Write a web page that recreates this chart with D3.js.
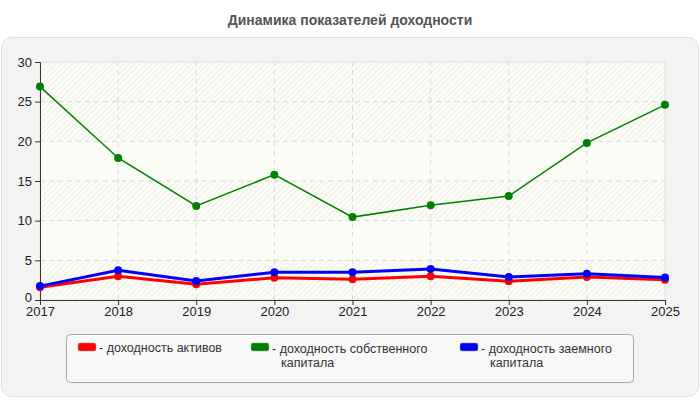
<!DOCTYPE html>
<html>
<head>
<meta charset="utf-8">
<title>Динамика показателей доходности</title>
<script src="https://cdn.jsdelivr.net/npm/d3@7"></script>
<style>
  body { margin: 0; background: #fff; font-family: "Liberation Sans", Arial, sans-serif; }
</style>
</head>
<body>
<div id="chart"></div>
<script>
var years = [2017, 2018, 2019, 2020, 2021, 2022, 2023, 2024, 2025];
var assets = [1.6, 3.0, 2.0, 2.8, 2.6, 3.0, 2.35, 2.9, 2.55];
var equity = [26.9, 17.9, 11.85, 15.8, 10.45, 11.95, 13.1, 19.8, 24.6];
var debt = [1.75, 3.75, 2.4, 3.5, 3.5, 3.9, 2.9, 3.3, 2.85];
var yTicks = [0, 5, 10, 15, 20, 25, 30];

var series = [
  {name: "- доходность активов", lines: ["- доходность активов"], values: assets, color: "red", width: 3},
  {name: "- доходность собственного капитала", lines: ["- доходность собственного", "капитала"], values: equity, color: "green", width: 1.5},
  {name: "- доходность заемного капитала", lines: ["- доходность заемного", "капитала"], values: debt, color: "blue", width: 3}
];

var width = 700, height = 400;
var svg = d3.select("#chart").append("svg")
  .attr("width", width).attr("height", height);

var defs = svg.append("defs");
var pat = defs.append("pattern")
  .attr("id", "hatch").attr("patternUnits", "userSpaceOnUse")
  .attr("width", 4).attr("height", 4)
  .attr("patternTransform", "rotate(45)");
pat.append("line").attr("x1", 0).attr("y1", 0).attr("x2", 0).attr("y2", 4)
  .attr("stroke", "#e2e2dc").attr("stroke-width", 1);

// outer panel
svg.append("rect").attr("x", 1.5).attr("y", 37.5).attr("width", 697).attr("height", 359)
  .attr("rx", 10).attr("fill", "#f3f3f3").attr("stroke", "#e0e0e0");

svg.append("text").attr("x", 350).attr("y", 25).attr("text-anchor", "middle")
  .attr("font-size", 14).attr("font-weight", "bold").attr("fill", "#555")
  .text("Динамика показателей доходности");

var x = d3.scaleLinear().domain([2017, 2025]).range([40, 665]);
var y = d3.scaleLinear().domain([0, 30]).range([300, 62]);

// plot background
svg.append("rect").attr("x", x(2017)).attr("y", y(30))
  .attr("width", x(2025) - x(2017)).attr("height", y(0) - y(30))
  .attr("fill", "#fcfcf6").attr("stroke", "#dcdcdc");

// alternating hatched bands
var bands = [[0, 5], [10, 15], [20, 25], [25, 30]];
svg.selectAll(".band").data(bands).enter().append("rect")
  .attr("class", "band")
  .attr("x", x(2017)).attr("width", x(2025) - x(2017))
  .attr("y", function(d) { return y(d[1]); })
  .attr("height", function(d) { return y(d[0]) - y(d[1]); })
  .attr("fill", "url(#hatch)");

// grid
svg.selectAll(".hgrid").data(yTicks.slice(1, -1)).enter().append("line")
  .attr("x1", x(2017)).attr("x2", x(2025))
  .attr("y1", function(d) { return y(d); }).attr("y2", function(d) { return y(d); })
  .attr("stroke", "#d8d8d8").attr("stroke-dasharray", "5,4");
svg.selectAll(".vgrid").data(years.slice(1, -1)).enter().append("line")
  .attr("y1", y(0)).attr("y2", y(30))
  .attr("x1", function(d) { return x(d); }).attr("x2", function(d) { return x(d); })
  .attr("stroke", "#d8d8d8").attr("stroke-dasharray", "5,4");

// axes
var yAxis = svg.append("g").attr("transform", "translate(" + x(2017) + ",0)")
  .call(d3.axisLeft(y).tickValues(yTicks).tickSize(5).tickPadding(3));
var xAxis = svg.append("g").attr("transform", "translate(0," + y(0) + ")")
  .call(d3.axisBottom(x).tickValues(years).tickFormat(d3.format("d")).tickSize(5).tickPadding(2));
[yAxis, xAxis].forEach(function(a) {
  a.selectAll("path, line").attr("stroke", "#333");
  a.selectAll("text").attr("font-size", 13).attr("fill", "#222")
    .attr("font-family", "'Liberation Sans', Arial, sans-serif");
});
yAxis.selectAll(".tick").filter(function(d) { return d === 0; })
  .select("text").attr("dy", "0.1em");

// lines
var line = d3.line()
  .x(function(d, i) { return x(years[i]); })
  .y(function(d) { return y(d); });

series.forEach(function(s) {
  svg.append("path").datum(s.values)
    .attr("d", line).attr("fill", "none")
    .attr("stroke", s.color).attr("stroke-width", s.width);
  svg.selectAll(null).data(s.values).enter().append("circle")
    .attr("cx", function(d, i) { return x(years[i]); })
    .attr("cy", function(d) { return y(d); })
    .attr("r", 4).attr("fill", s.color);
});

// legend
svg.append("rect").attr("x", 66.5).attr("y", 334.5).attr("width", 567).attr("height", 48)
  .attr("rx", 4).attr("fill", "#f8f8f8").attr("stroke", "#aaa");
var legendX = [78, 251, 460];
series.forEach(function(s, i) {
  var g = svg.append("g").attr("transform", "translate(" + legendX[i] + ",343)");
  g.append("rect").attr("width", 18).attr("height", 8).attr("rx", 2)
    .attr("fill", s.color).attr("stroke", "#999").attr("stroke-width", 0.5);
  s.lines.forEach(function(l, j) {
    g.append("text")
      .attr("x", j === 0 ? 21 : 30)
      .attr("y", (i === 0 ? 9 : 10) + j * 14)
      .attr("font-size", 12.5).attr("fill", "#333")
      .text(l);
  });
});
</script>
</body>
</html>
